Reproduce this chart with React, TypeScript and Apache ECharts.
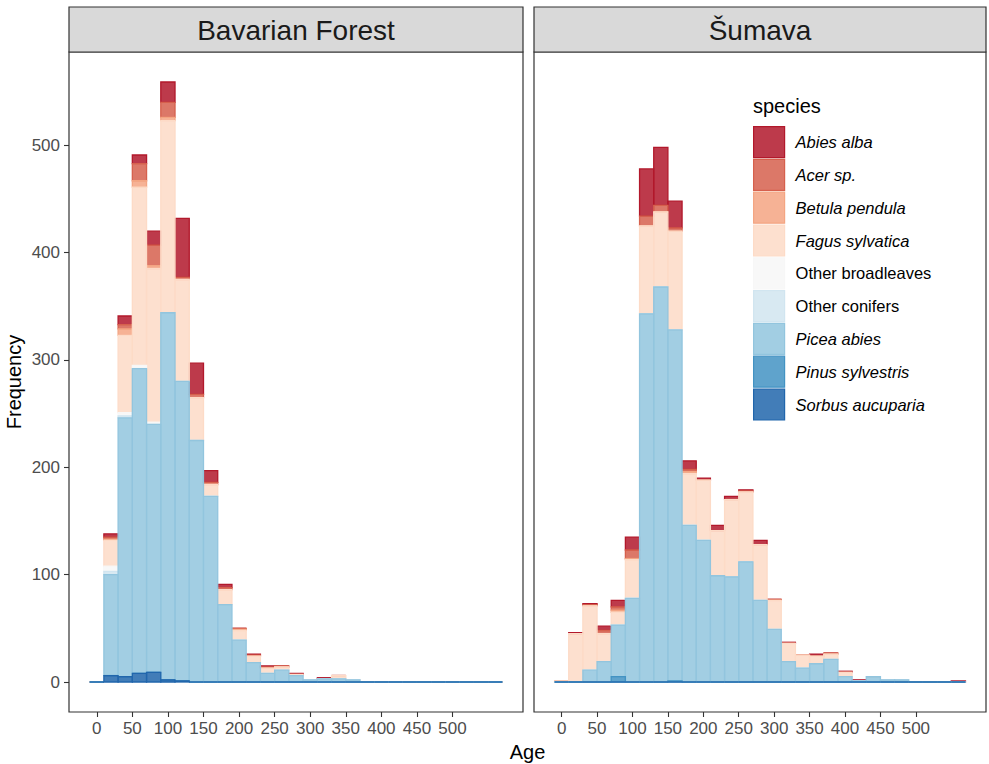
import React, { useEffect, useRef } from "react";
import * as echarts from "echarts";

// ---------- data ----------
const BIN_CENTERS = [0, 20, 40, 60, 80, 100, 120, 140, 160, 180, 200, 220, 240, 260, 280, 300, 320, 340, 360, 380, 400, 420, 440, 460, 480, 500, 520, 540, 560];
const BIN_WIDTH = 20;

const SPECIES = [
  "Abies alba",
  "Acer sp.",
  "Betula pendula",
  "Fagus sylvatica",
  "Other broadleaves",
  "Other conifers",
  "Picea abies",
  "Pinus sylvestris",
  "Sorbus aucuparia",
];
const SPECIES_ITALIC = [true, true, true, true, false, false, true, true, true];
const SPECIES_COLORS = ["#B2182B", "#D6604D", "#F4A582", "#FDDBC7", "#F7F7F7", "#D1E5F0", "#92C5DE", "#4393C3", "#2166AC"];

const PANELS = ["Bavarian Forest", "Šumava"];
const X_TICKS = [0, 50, 100, 150, 200, 250, 300, 350, 400, 450, 500];
const Y_TICKS = [0, 100, 200, 300, 400, 500];

// Bavarian Forest counts per 20-year bin (centres in BIN_CENTERS)
const BF_ABIES = [0, 3, 8, 8, 13, 19, 55, 29, 11, 3, 0, 1, 1, 0, 1, 0, 1, 0, 0, 0, 0, 0, 0, 0, 0, 0, 0, 0, 0];
const BF_ACER = [0, 2, 4, 16, 19, 14, 2, 3, 2, 2, 1, 1, 1, 1, 0, 0, 0, 0, 0, 0, 0, 0, 0, 0, 0, 0, 0, 0, 0];
const BF_BETULA = [0, 1, 6, 6, 3, 3, 0, 0, 0, 0, 1, 0, 0, 0, 0, 0, 0, 0, 0, 0, 0, 0, 0, 0, 0, 0, 0, 0, 0];
const BF_FAGUS = [0, 24, 72, 166, 143, 179, 95, 40, 11, 14, 9, 6, 5, 3, 1, 0, 0, 3, 0, 0, 0, 0, 0, 0, 0, 0, 0, 0, 0];
const BF_OTHER_BROAD = [0, 5, 3, 3, 2, 0, 0, 0, 0, 0, 0, 0, 0, 0, 0, 0, 0, 0, 0, 0, 0, 0, 0, 0, 0, 0, 0, 0, 0];
const BF_OTHER_CONIF = [0, 3, 2, 0, 0, 0, 0, 0, 0, 0, 0, 0, 0, 0, 0, 0, 0, 0, 0, 0, 0, 0, 0, 0, 0, 0, 0, 0, 0];
const BF_PICEA = [0, 94, 241, 284, 231, 342, 279, 225, 173, 72, 39, 18, 8, 11, 6, 2, 3, 3, 2, 0, 0, 0, 0, 0, 0, 0, 0, 0, 0];
const BF_PINUS = [0, 0, 0, 0, 0, 0, 0, 0, 0, 0, 0, 0, 0, 0, 0, 0, 0, 0, 0, 0, 0, 0, 0, 0, 0, 0, 0, 0, 0];
const BF_SORBUS = [0, 6, 5, 8, 9, 2, 1, 0, 0, 0, 0, 0, 0, 0, 0, 0, 0, 0, 0, 0, 0, 0, 0, 0, 0, 0, 0, 0, 0];

// Šumava counts
const SU_ABIES = [0, 1, 1, 4, 6, 12, 44, 54, 25, 8, 2, 5, 3, 1, 4, 0, 1, 0, 2, 0, 1, 1, 0, 0, 0, 0, 0, 0, 1];
const SU_ACER = [0, 0, 1, 3, 3, 8, 9, 6, 3, 2, 0, 0, 0, 1, 0, 1, 0, 0, 0, 1, 0, 0, 0, 0, 0, 0, 0, 0, 0];
const SU_BETULA = [0, 0, 0, 0, 2, 1, 0, 0, 0, 2, 0, 0, 0, 0, 0, 0, 0, 0, 0, 0, 0, 0, 0, 0, 0, 0, 0, 0, 0];
const SU_FAGUS = [1, 45, 60, 26, 12, 36, 82, 70, 92, 48, 56, 42, 72, 65, 52, 27, 17, 12, 7, 5, 4, 0, 0, 0, 0, 0, 0, 0, 0];
const SU_OTHER_BROAD = [0, 0, 0, 0, 0, 0, 0, 0, 0, 0, 0, 0, 0, 0, 0, 0, 0, 0, 0, 0, 0, 0, 0, 0, 0, 0, 0, 0, 0];
const SU_OTHER_CONIF = [0, 0, 0, 0, 0, 0, 0, 0, 0, 0, 0, 0, 0, 0, 0, 0, 0, 0, 0, 0, 0, 0, 0, 0, 0, 0, 0, 0, 0];
const SU_PICEA = [0, 0, 11, 19, 48, 78, 343, 368, 327, 146, 132, 99, 98, 112, 76, 49, 19, 13, 17, 21, 5, 1, 5, 2, 2, 0, 0, 0, 0];
const SU_PINUS = [0, 0, 0, 0, 5, 0, 0, 0, 1, 0, 0, 0, 0, 0, 0, 0, 0, 0, 0, 0, 0, 0, 0, 0, 0, 0, 0, 0, 0];
const SU_SORBUS = [0, 0, 0, 0, 0, 0, 0, 0, 0, 0, 0, 0, 0, 0, 0, 0, 0, 0, 0, 0, 0, 0, 0, 0, 0, 0, 0, 0, 0];

const BAVARIAN = [BF_ABIES, BF_ACER, BF_BETULA, BF_FAGUS, BF_OTHER_BROAD, BF_OTHER_CONIF, BF_PICEA, BF_PINUS, BF_SORBUS];
const SUMAVA = [SU_ABIES, SU_ACER, SU_BETULA, SU_FAGUS, SU_OTHER_BROAD, SU_OTHER_CONIF, SU_PICEA, SU_PINUS, SU_SORBUS];
const PANEL_COUNTS = [BAVARIAN, SUMAVA];

// ---------- helpers ----------
const FONT = "'Liberation Sans', Arial, Helvetica, sans-serif";
const FILL_ALPHA = 0.85;
const BAR_LW = 1.3;

function hexToRgba(hex: string, a: number) {
  const h = hex.replace("#", "");
  const r = parseInt(h.slice(0, 2), 16);
  const g = parseInt(h.slice(2, 4), 16);
  const b = parseInt(h.slice(4, 6), 16);
  return `rgba(${r},${g},${b},${a})`;
}

const GRID_TOP = 52;
const GRID_H = 660;
const GRIDS = [
  { left: 69, width: 454 },
  { left: 534, width: 452 },
];

export default function App() {
  const ref = useRef<HTMLDivElement>(null);

  useEffect(() => {
    if (!ref.current) return;
    const chart = echarts.init(ref.current, undefined, { renderer: "svg" });

    // totals and ranges (ggplot-like 5% expansion)
    let maxTotal = 0;
    PANEL_COUNTS.forEach((counts) => {
      BIN_CENTERS.forEach((_, b) => {
        let t = 0;
        counts.forEach((arr) => (t += arr[b]));
        if (t > maxTotal) maxTotal = t;
      });
    });
    const yMin = -0.05 * maxTotal;
    const yMax = 1.05 * maxTotal;
    const lo = BIN_CENTERS[0] - BIN_WIDTH / 2;
    const hi = BIN_CENTERS[BIN_CENTERS.length - 1] + BIN_WIDTH / 2;
    const xMin = lo - 0.05 * (hi - lo);
    const xMax = hi + 0.05 * (hi - lo);

    const series: any[] = [];
    PANEL_COUNTS.forEach((counts, p) => {
      SPECIES.forEach((name, s) => {
        const data = BIN_CENTERS.map((c, b) => {
          let bottom = 0;
          for (let k = SPECIES.length - 1; k > s; k--) bottom += counts[k][b];
          return [c, bottom, bottom + counts[s][b]];
        });
        const stroke = SPECIES_COLORS[s];
        const fill = hexToRgba(SPECIES_COLORS[s], FILL_ALPHA);
        series.push({
          type: "custom",
          name,
          xAxisIndex: p,
          yAxisIndex: p,
          silent: true,
          itemStyle: { color: fill },
          encode: { x: 0, y: [1, 2] },
          data,
          renderItem: (_params: any, api: any) => {
            const x = api.value(0);
            const y0 = api.value(1);
            const y1 = api.value(2);
            const a = api.coord([x - BIN_WIDTH / 2, y0]);
            const bpt = api.coord([x + BIN_WIDTH / 2, y1]);
            const h = a[1] - bpt[1];
            if (h < 0.3) {
              return {
                type: "line",
                shape: { x1: a[0], y1: a[1], x2: bpt[0], y2: a[1] },
                style: { stroke, lineWidth: BAR_LW },
              };
            }
            return {
              type: "rect",
              shape: { x: a[0], y: bpt[1], width: bpt[0] - a[0], height: h },
              style: { fill, stroke, lineWidth: BAR_LW },
            };
          },
        });
      });
    });

    const grid = GRIDS.map((g) => ({
      left: g.left,
      top: GRID_TOP,
      width: g.width,
      height: GRID_H,
      show: true,
      borderColor: "#333333",
      borderWidth: 1.2,
      backgroundColor: "transparent",
      containLabel: false,
    }));

    const xAxis = GRIDS.map((_, i) => ({
      type: "value",
      gridIndex: i,
      position: "bottom",
      min: xMin,
      max: xMax,
      axisLine: { show: false, onZero: false },
      splitLine: { show: false },
      axisTick: {
        show: true,
        inside: false,
        customValues: X_TICKS,
        length: 5,
        lineStyle: { color: "#333333", width: 1.1 },
      },
      axisLabel: {
        show: true,
        customValues: X_TICKS,
        margin: 8,
        color: "#4D4D4D",
        fontSize: 17,
        fontFamily: FONT,
      },
    }));

    const yAxis = GRIDS.map((_, i) => ({
      type: "value",
      gridIndex: i,
      position: "left",
      min: yMin,
      max: yMax,
      axisLine: { show: false, onZero: false },
      splitLine: { show: false },
      axisTick: {
        show: i === 0,
        inside: false,
        customValues: Y_TICKS,
        length: 5,
        lineStyle: { color: "#333333", width: 1.1 },
      },
      axisLabel: {
        show: i === 0,
        customValues: Y_TICKS,
        margin: 9,
        color: "#4D4D4D",
        fontSize: 17,
        fontFamily: FONT,
      },
    }));

    const graphic: any[] = [];
    GRIDS.forEach((g, i) => {
      graphic.push({
        type: "rect",
        shape: { x: g.left, y: 7, width: g.width, height: GRID_TOP - 7 },
        style: { fill: "#D9D9D9", stroke: "#333333", lineWidth: 1.2 },
        z: 10,
      });
      graphic.push({
        type: "text",
        x: g.left + g.width / 2,
        y: 30,
        style: {
          text: PANELS[i],
          fill: "#1A1A1A",
          fontSize: 28,
          fontFamily: FONT,
          align: "center",
          verticalAlign: "middle",
        },
        z: 11,
      });
    });
    graphic.push({
      type: "text",
      x: (GRIDS[0].left + GRIDS[1].left + GRIDS[1].width) / 2,
      y: 752,
      style: { text: "Age", fill: "#000", fontSize: 20, fontFamily: FONT, align: "center", verticalAlign: "middle" },
    });
    graphic.push({
      type: "text",
      x: 14,
      y: GRID_TOP + GRID_H / 2,
      rotation: Math.PI / 2,
      style: { text: "Frequency", fill: "#000", fontSize: 20, fontFamily: FONT, align: "center", verticalAlign: "middle" },
    });
    graphic.push({
      type: "text",
      x: 753,
      y: 106,
      style: { text: "species", fill: "#000", fontSize: 20, fontFamily: FONT, align: "left", verticalAlign: "middle" },
    });

    const richBase = { fontSize: 16.5, fontFamily: FONT, color: "#000", padding: [0, 0, 0, 6] };

    chart.setOption({
      animation: false,
      backgroundColor: "#ffffff",
      grid,
      xAxis,
      yAxis,
      series,
      graphic,
      legend: {
        orient: "vertical",
        left: 753,
        top: 126,
        padding: 0,
        itemWidth: 31,
        itemHeight: 31,
        itemGap: 0.6,
        icon: "rect",
        selectedMode: false,
        data: SPECIES.map((n, i) => ({
          name: n,
          icon: "rect",
          itemStyle: {
            color: hexToRgba(SPECIES_COLORS[i], FILL_ALPHA),
            borderColor: SPECIES_COLORS[i],
            borderWidth: 1.2,
          },
        })),
        formatter: (name: string) => (SPECIES_ITALIC[SPECIES.indexOf(name)] ? `{i|${name}}` : `{n|${name}}`),
        textStyle: {
          fontSize: 16.5,
          fontFamily: FONT,
          color: "#000",
          rich: {
            i: { ...richBase, fontStyle: "italic" },
            n: { ...richBase },
          },
        },
      },
    });

    return () => chart.dispose();
  }, []);

  return (
    <div
      ref={ref}
      style={{ position: "fixed", left: 0, top: 0, width: 989, height: 764, background: "#fff" }}
    />
  );
}
